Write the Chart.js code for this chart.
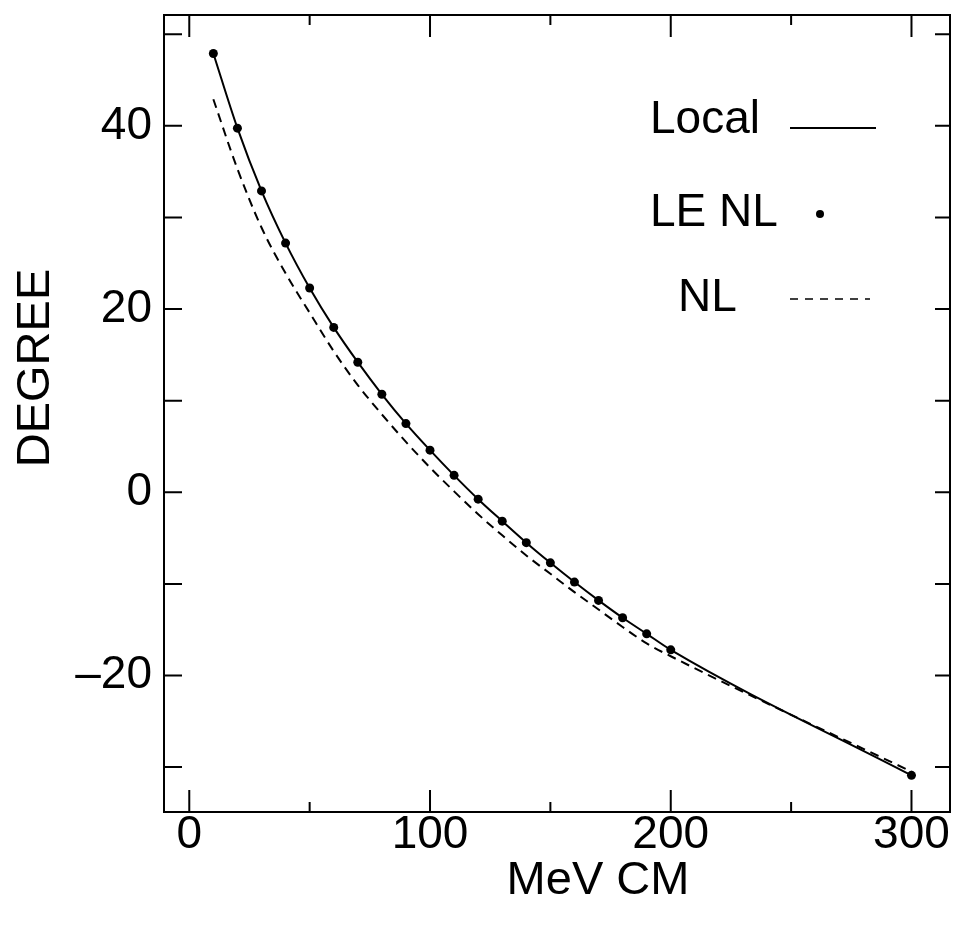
<!DOCTYPE html>
<html>
<head>
<meta charset="utf-8">
<script src="https://cdn.jsdelivr.net/npm/chart.js@4/dist/chart.umd.min.js"></script>
<style>
  html, body { margin: 0; padding: 0; background: #fff; }
  #phase-chart { display: block; }
</style>
</head>
<body>
<canvas id="phase-chart" width="963" height="935"></canvas>
<script>
// energies (MeV CM) and phase shifts (degrees)
const energyMeV = [10, 20, 30, 40, 50, 60, 70, 80, 90, 100, 110, 120, 130, 140, 150, 160, 170, 180, 190, 200, 300];
const localDeg  = [47.9, 39.75, 32.9, 27.2, 22.3, 18.0, 14.2, 10.7, 7.5, 4.6, 1.85, -0.75, -3.15, -5.5, -7.7, -9.8, -11.8, -13.7, -15.45, -17.2, -30.9];
const leNlDeg   = [47.9, 39.75, 32.9, 27.2, 22.3, 18.0, 14.2, 10.7, 7.5, 4.6, 1.85, -0.75, -3.15, -5.5, -7.7, -9.8, -11.8, -13.7, -15.45, -17.2, -30.9];
const nlDeg     = [42.9, 35.3, 28.9, 23.9, 19.6, 15.4, 11.7, 8.5, 5.5, 2.7, 0.1, -2.4, -4.7, -6.9, -8.9, -10.9, -12.8, -14.7, -16.5, -17.9, -30.5];

const xTickLabels = [0, 100, 200, 300];
const yTickLabels = [-20, 0, 20, 40];

const FONT = "'Liberation Sans', Arial, sans-serif";

const toPoints = (ys) => energyMeV.map((x, i) => ({ x, y: ys[i] }));

// box, inward ticks on all four sides, axis titles and the hand-laid legend
const framePlugin = {
    id: 'frame',
    afterDraw(chart) {
        const { ctx, chartArea: { left, right, top, bottom }, scales: { x, y } } = chart;
        ctx.save();
        ctx.strokeStyle = '#000';
        ctx.lineWidth = 2;
        ctx.strokeRect(left, top, right - left, bottom - top);

        ctx.beginPath();
        x.ticks.forEach((t) => {
            const px = x.getPixelForValue(t.value);
            const len = xTickLabels.includes(t.value) ? 22 : 10;
            ctx.moveTo(px, bottom); ctx.lineTo(px, bottom - len);
            ctx.moveTo(px, top);    ctx.lineTo(px, top + len);
        });
        y.ticks.forEach((t) => {
            const py = y.getPixelForValue(t.value);
            ctx.moveTo(left, py);  ctx.lineTo(left + 18, py);
            ctx.moveTo(right, py); ctx.lineTo(right - 15, py);
        });
        ctx.stroke();

        ctx.fillStyle = '#000';
        ctx.font = `47px ${FONT}`;
        ctx.textAlign = 'center';
        ctx.textBaseline = 'middle';
        ctx.fillText('MeV CM', 598, 881);

        ctx.save();
        ctx.translate(36, 368);
        ctx.rotate(-Math.PI / 2);
        ctx.fillText('DEGREE', 0, 0);
        ctx.restore();

        // legend
        ctx.font = `46px ${FONT}`;
        ctx.textAlign = 'left';
        ctx.textBaseline = 'alphabetic';
        ctx.fillText('Local', 650, 133);
        ctx.fillText('LE NL', 650, 226);
        ctx.fillText('NL', 678, 311);

        ctx.lineWidth = 2;
        ctx.beginPath();
        ctx.moveTo(790, 128); ctx.lineTo(876, 128);
        ctx.stroke();

        ctx.beginPath();
        ctx.arc(820, 214, 4, 0, Math.PI * 2);
        ctx.fill();

        ctx.lineWidth = 1.5;
        ctx.setLineDash([8, 7]);
        ctx.beginPath();
        ctx.moveTo(790, 299); ctx.lineTo(870, 299);
        ctx.stroke();
        ctx.restore();
    },
};

new Chart(document.getElementById('phase-chart'), {
    type: 'scatter',
    data: {
        datasets: [
            {
                label: 'LE NL',
                data: toPoints(leNlDeg),
                showLine: false,
                pointRadius: 4.5,
                pointBackgroundColor: '#000',
                pointBorderWidth: 0,
                order: 0,
            },
            {
                label: 'Local',
                data: toPoints(localDeg),
                showLine: true,
                borderColor: '#000',
                borderWidth: 2,
                pointRadius: 0,
                cubicInterpolationMode: 'monotone',
                order: 1,
            },
            {
                label: 'NL',
                data: toPoints(nlDeg),
                showLine: true,
                borderColor: '#000',
                borderWidth: 2,
                borderDash: [9, 6],
                pointRadius: 0,
                cubicInterpolationMode: 'monotone',
                order: 2,
            },
        ],
    },
    options: {
        responsive: false,
        animation: false,
        layout: { padding: { left: 0, top: 15, right: 13, bottom: 0 } },
        plugins: {
            legend: { display: false },
            tooltip: { enabled: false },
        },
        scales: {
            x: {
                type: 'linear',
                min: -10.5,
                max: 316,
                grid: { display: false, drawTicks: false },
                border: { display: false },
                ticks: {
                    stepSize: 50,
                    includeBounds: false,
                    autoSkip: false,
                    maxRotation: 0,
                    padding: -4,
                    color: '#000',
                    font: { family: FONT, size: 46 },
                    callback: (v) => (xTickLabels.includes(v) ? String(v) : ''),
                },
                afterFit: (scale) => {
                    scale.height = 123;
                    scale.paddingLeft = 0;
                    scale.paddingRight = 0;
                },
            },
            y: {
                type: 'linear',
                min: -34.9,
                max: 52.1,
                grid: { display: false, drawTicks: false },
                border: { display: false },
                ticks: {
                    stepSize: 10,
                    includeBounds: false,
                    autoSkip: false,
                    padding: 12,
                    color: '#000',
                    font: { family: FONT, size: 46 },
                    callback: (v) => (yTickLabels.includes(v) ? (v < 0 ? '\u2013' + Math.abs(v) : String(v)) : ''),
                },
                afterFit: (scale) => {
                    scale.width = 164;
                    scale.paddingTop = 0;
                    scale.paddingBottom = 0;
                },
            },
        },
    },
    plugins: [framePlugin],
});
</script>
</body>
</html>
